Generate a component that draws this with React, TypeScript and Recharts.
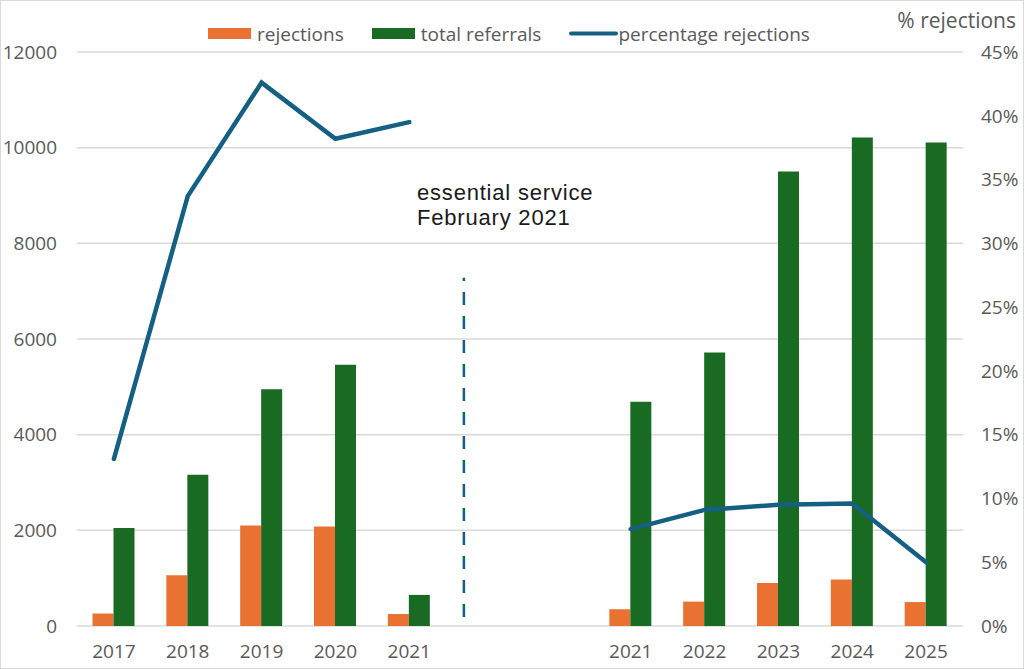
import { ComposedChart, Bar, Line, XAxis, YAxis, CartesianGrid, ReferenceLine } from 'recharts';

// years on the axis; the two blank slots separate the pre- and post-change periods
const categoryIds = ['2017', '2018', '2019', '2020', '2021a', 'gap1', 'gap2', '2021b', '2022', '2023', '2024', '2025'];
const xLabels = ['2017', '2018', '2019', '2020', '2021', '', '', '2021', '2022', '2023', '2024', '2025'];

const rejections = [260, 1060, 2100, 2080, 250, null, null, 350, 510, 900, 970, 500];
const totalReferrals = [2050, 3160, 4950, 5460, 650, null, null, 4690, 5720, 9500, 10210, 10110];
const pctRejections = [13.1, 33.7, 42.6, 38.2, 39.5, null, null, 7.6, 9.1, 9.5, 9.6, 5.0];

const leftTicks = [0, 2000, 4000, 6000, 8000, 10000, 12000];
const rightTicks = [0, 5, 10, 15, 20, 25, 30, 35, 40, 45];

// divider between the two periods, in category-index / left-axis units
const dividerAt = 4.74;
const dividerFrom = 190;
const dividerTo = 7280;

const ORANGE = '#E97132';
const GREEN = '#196B24';
const BLUE = '#156082';
const FONT = '"Open Sans", sans-serif';

const legendItems = [
  { name: 'rejections', color: ORANGE, kind: 'bar' },
  { name: 'total referrals', color: GREEN, kind: 'bar' },
  { name: 'percentage rejections', color: BLUE, kind: 'line' },
];

const data = categoryIds.map((id, i) => ({
  id,
  pos: i,
  rejections: rejections[i],
  totalReferrals: totalReferrals[i],
  pct: pctRejections[i],
}));

const tickStyle = { fill: '#595959', fontSize: 19, fontFamily: FONT };

function ChartLegend() {
  return (
    <div
      style={{
        position: 'absolute',
        left: 207,
        top: 20,
        height: 25,
        display: 'flex',
        alignItems: 'center',
        fontFamily: FONT,
        fontSize: 19,
        color: '#595959',
      }}
    >
      {legendItems.map((item) => (
        <div key={item.name} style={{ display: 'flex', alignItems: 'center', marginRight: 28 }}>
          {item.kind === 'bar' ? (
            <div style={{ width: 43, height: 11, background: item.color, marginRight: 6 }} />
          ) : (
            <svg width={49} height={11} style={{ marginRight: 0 }}>
              <line x1={2} y1={5.5} x2={47} y2={5.5} stroke={item.color} strokeWidth={4} strokeLinecap="round" />
            </svg>
          )}
          <span>{item.name}</span>
        </div>
      ))}
    </div>
  );
}

const noteStyle = {
  position: 'absolute' as const,
  left: 416,
  fontFamily: '"Liberation Sans", Arial, sans-serif',
  fontSize: 22,
  letterSpacing: 0.8,
  lineHeight: '25px',
  color: '#1a1a1a',
  whiteSpace: 'nowrap' as const,
};

export default function App() {
  return (
    <div
      style={{
        position: 'absolute',
        left: 0,
        top: 0,
        width: 1024,
        height: 669,
        background: '#fff',
        border: '1px solid #d9d9d9',
        boxSizing: 'border-box',
        overflow: 'hidden',
      }}
    >
      <ComposedChart
        width={1022}
        height={667}
        data={data}
        margin={{ top: 51, right: 0, left: -1, bottom: 0 }}
        barCategoryGap="21%"
        barGap={0}
      >
        <CartesianGrid vertical={false} stroke="#d9d9d9" strokeWidth={1.5} yAxisId="left" />
        <XAxis
          xAxisId="cat"
          dataKey="id"
          interval={0}
          tickFormatter={(_v: string, i: number) => xLabels[i]}
          axisLine={false}
          tickLine={false}
          tickSize={0}
          tickMargin={19}
          height={42}
          tick={tickStyle}
        />
        <XAxis xAxisId="idx" dataKey="pos" type="number" domain={[-0.5, 11.5]} allowDataOverflow hide />
        <YAxis
          yAxisId="left"
          domain={[0, 12000]}
          ticks={leftTicks}
          width={77}
          axisLine={false}
          tickLine={false}
          tickSize={0}
          tickMargin={20}
          tick={tickStyle}
        />
        <YAxis
          yAxisId="right"
          orientation="right"
          domain={[0, 45]}
          ticks={rightTicks}
          tickFormatter={(v: number) => `${v}%`}
          width={60}
          axisLine={false}
          tickLine={false}
          tickSize={0}
          tickMargin={18}
          tick={tickStyle}
        />
        <Bar xAxisId="cat" yAxisId="left" dataKey="rejections" fill={ORANGE} isAnimationActive={false} />
        <Bar xAxisId="cat" yAxisId="left" dataKey="totalReferrals" fill={GREEN} isAnimationActive={false} />
        <Line
          xAxisId="cat"
          yAxisId="right"
          dataKey="pct"
          type="linear"
          stroke={BLUE}
          strokeWidth={4.5}
          strokeLinecap="round"
          dot={false}
          activeDot={false}
          connectNulls={false}
          isAnimationActive={false}
        />
        <ReferenceLine
          xAxisId="idx"
          yAxisId="left"
          segment={[
            { x: dividerAt, y: dividerFrom },
            { x: dividerAt, y: dividerTo },
          ]}
          stroke={BLUE}
          strokeWidth={2.5}
          strokeDasharray="13 11"
        />
      </ComposedChart>
      <ChartLegend />
      <div
        style={{
          position: 'absolute',
          right: 7,
          top: 6,
          fontFamily: FONT,
          fontSize: 21,
          color: '#595959',
          lineHeight: '26px',
        }}
      >
        % rejections
      </div>
      <div style={{ ...noteStyle, top: 179 }}>essential service</div>
      <div style={{ ...noteStyle, top: 204 }}>February 2021</div>
    </div>
  );
}
